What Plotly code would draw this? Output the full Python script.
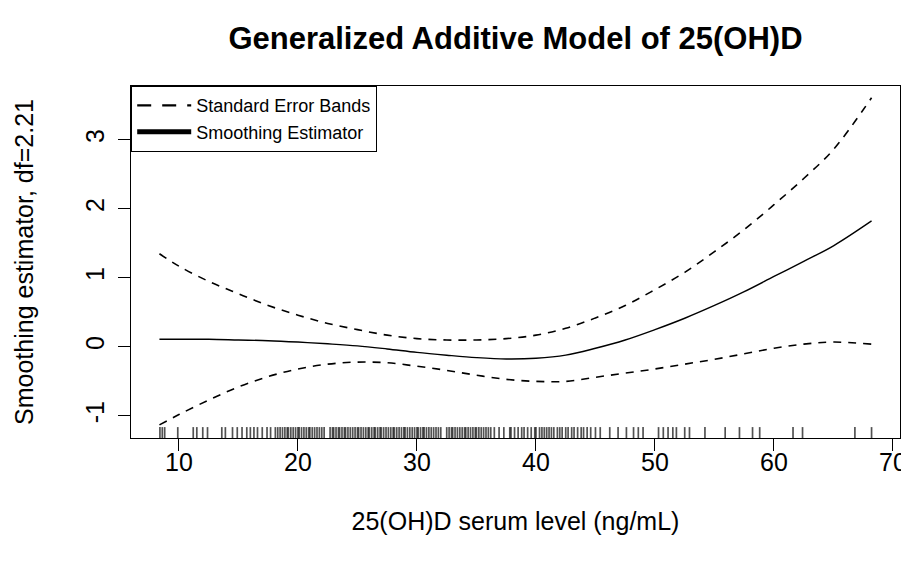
import plotly.graph_objects as go

# ---- data ----
x_grid = [8.36, 10, 12.5, 15, 17.5, 20, 22.5, 25, 27.5, 30, 32.5, 35, 37.5,
          40, 42.5, 45, 47.5, 50, 52.5, 55, 57.5, 60, 62.5, 65, 68.2]
smooth = [0.11, 0.11, 0.11, 0.10, 0.09, 0.07, 0.045, 0.015, -0.03, -0.08, -0.12,
          -0.155, -0.175, -0.165, -0.12, -0.02, 0.10, 0.25, 0.415, 0.6, 0.8,
          1.02, 1.24, 1.465, 1.825]
upper = [1.35, 1.17, 0.95, 0.77, 0.6, 0.46, 0.34, 0.25, 0.17, 0.12, 0.1, 0.1,
         0.12, 0.17, 0.27, 0.42, 0.6, 0.83, 1.08, 1.38, 1.7, 2.06, 2.44, 2.86, 3.61]
lower = [-1.13, -0.98, -0.77, -0.58, -0.43, -0.32, -0.25, -0.22, -0.23, -0.28,
         -0.34, -0.41, -0.47, -0.5, -0.5, -0.44, -0.38, -0.32, -0.25, -0.18,
         -0.1, -0.02, 0.04, 0.07, 0.04]

rug_values = [
    8.4, 8.6, 8.8, 9.9, 11.2, 11.5, 12.0, 12.4, 13.6, 13.9,
    14.5, 14.9, 15.3, 15.7, 16.0, 16.3, 16.6, 17.0, 17.4, 17.7, 18.1, 18.3,
    18.5, 18.7, 18.9, 19.1, 19.2, 19.4, 19.6, 19.8, 20.0, 20.1, 20.3, 20.5,
    20.7, 20.9, 21.0, 21.2, 21.4, 21.6, 21.8, 22.0, 22.2, 22.7, 22.9, 23.0,
    23.2, 23.4, 23.5, 23.7, 23.9, 24.0, 24.2, 24.4, 24.6, 24.8, 25.0, 25.1,
    25.3, 25.5, 25.7, 25.9, 26.0, 26.2, 26.4, 26.5, 26.7, 26.9, 27.0, 27.2,
    27.4, 27.6, 27.8, 28.0, 28.1, 28.3, 28.5, 28.7, 28.9, 29.0, 29.2, 29.4,
    29.6, 29.8, 30.0, 30.1, 30.3, 30.5, 30.6, 30.8, 31.0, 31.2, 31.4, 31.6,
    31.8, 32.0, 32.5, 32.7, 32.9, 33.0, 33.2, 33.4, 33.6, 33.8, 34.0, 34.1,
    34.3, 34.5, 34.7, 34.9, 35.0, 35.2, 35.4, 35.6, 35.8, 36.0, 36.2, 36.5,
    36.9, 37.3, 37.8, 37.9, 38.2, 38.5, 38.8, 39.0, 39.3, 39.6, 39.9, 40.0,
    40.3, 40.5, 40.7, 40.9, 41.1, 41.3, 41.5, 41.8, 42.0, 42.2, 42.5, 42.7,
    43.0, 43.2, 43.5, 43.8, 44.0, 44.3, 44.6, 45.0, 45.4, 46.2, 46.9, 47.6,
    48.2, 48.6, 49.0, 50.3, 50.7, 51.1, 51.5, 51.8, 52.5, 52.9, 54.2, 55.9,
    57.1, 58.2, 58.8, 61.6, 62.4, 66.8, 68.2,
]

x_ticks = [10, 20, 30, 40, 50, 60, 70]
y_ticks = [-1, 0, 1, 2, 3]
y_tick_labels = ["-1", "0", "1", "2", "3"]

title_text = "<b>Generalized Additive Model of 25(OH)D</b>"
x_title = "25(OH)D serum level (ng/mL)"
y_title = "Smoothing estimator, df=2.21"
legend_se = "Standard Error Bands"
legend_sm = "Smoothing Estimator"

FONT = "Liberation Sans, Arial, Helvetica, sans-serif"
DASH = "8px,7px"

# the page body adds an 8px margin, so the figure is 8px smaller on each axis
W, H = 901, 557

fig = go.Figure()

# rug (on an overlay axis spanning 0..1 of the plot height)
rx, ry = [], []
for v in rug_values:
    rx += [v, v, None]
    ry += [0, 0.031, None]
fig.add_trace(go.Scatter(x=rx, y=ry, yaxis="y2", mode="lines",
                         line=dict(color="rgba(0,0,0,0.68)", width=1.7),
                         showlegend=False, hoverinfo="skip"))

fig.add_trace(go.Scatter(x=x_grid, y=upper, mode="lines", name=legend_se,
                         line=dict(color="black", width=1.6, dash=DASH, shape="spline"),
                         showlegend=False))
fig.add_trace(go.Scatter(x=x_grid, y=lower, mode="lines", name=legend_se,
                         line=dict(color="black", width=1.6, dash=DASH, shape="spline"),
                         showlegend=False))
fig.add_trace(go.Scatter(x=x_grid, y=smooth, mode="lines", name=legend_sm,
                         line=dict(color="black", width=1.4, shape="spline"),
                         showlegend=False))
# legend-only entries, drawn like the reference legend keys
fig.add_trace(go.Scatter(x=[None], y=[None], mode="lines", name=legend_se,
                         line=dict(color="black", width=2.2, dash="14px,11px"),
                         showlegend=True, legendrank=1))
fig.add_trace(go.Scatter(x=[None], y=[None], mode="lines", name=legend_sm,
                         line=dict(color="black", width=5),
                         showlegend=True, legendrank=2))

fig.update_layout(
    width=W, height=H,
    margin=dict(l=123, r=9, t=78, b=127, autoexpand=False),
    paper_bgcolor="white", plot_bgcolor="white",
    font=dict(family=FONT, color="black", size=25),
    title=dict(text=title_text, x=(123 + 892) / 2 / W, xanchor="center",
               y=1 - 30 / H, yanchor="middle", yref="container",
               automargin=False,
               font=dict(size=31, family=FONT, color="black")),
    showlegend=True,
    legend=dict(x=0, y=1, xanchor="left", yanchor="top",
                bgcolor="white", bordercolor="black", borderwidth=1.2,
                font=dict(size=18, family=FONT, color="black"),
                itemwidth=54, tracegroupgap=0),
    xaxis=dict(range=[5.97, 70.59], tickvals=x_ticks, ticks="outside",
               ticklen=12, tickwidth=1.3, tickcolor="black",
               ticklabelstandoff=-10, automargin=False,
               showline=True, mirror=True, linecolor="black", linewidth=1.3,
               showgrid=False, zeroline=False,
               tickfont=dict(size=25),
               title=dict(text=x_title, font=dict(size=25), standoff=37)),
    yaxis=dict(range=[-1.32, 3.78], tickvals=y_ticks, ticktext=y_tick_labels,
               ticks="outside",
               ticklen=12, tickwidth=1.3, tickcolor="black", tickangle=-90,
               ticklabelstandoff=4, automargin=False,
               showline=True, mirror=True, linecolor="black", linewidth=1.3,
               showgrid=False, zeroline=False,
               tickfont=dict(size=25),
               title=dict(text=y_title, font=dict(size=25), standoff=40)),
    yaxis2=dict(range=[0, 1], overlaying="y", visible=False, fixedrange=True),
)

fig.write_html("out.html")
